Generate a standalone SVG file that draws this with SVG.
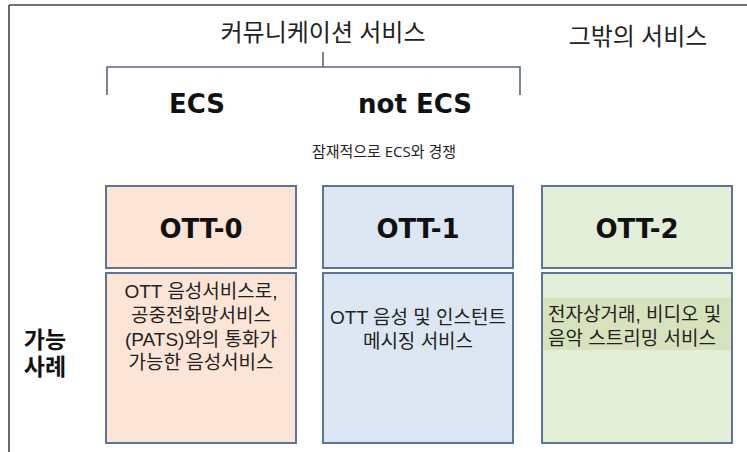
<svg xmlns="http://www.w3.org/2000/svg" width="747" height="452" viewBox="0 0 747 452">
<style>
text{font-family:"Open Sans","Noto Sans CJK KR",sans-serif;fill:#111;}
.hd{font-size:24px;text-anchor:middle;fill:#222;}
.big{font-family:"DejaVu Sans","Noto Sans CJK KR",sans-serif;font-size:26px;font-weight:bold;text-anchor:middle;}
.sub{font-size:15px;text-anchor:middle;fill:#222;}
.body{font-family:"Liberation Sans","Noto Sans CJK KR",sans-serif;font-size:19px;text-anchor:middle;fill:#222;}
.box{stroke:#5d7593;stroke-width:2;}
.c0{fill:#fce4d6;}
.c1{fill:#dde7f3;}
.c2{fill:#e4efda;}
.lbl{font-family:"Liberation Sans","Noto Sans CJK KR",sans-serif;font-size:23px;font-weight:bold;text-anchor:middle;}
.brk{fill:none;stroke:#5a6878;stroke-width:1.6;}
</style>
<rect x="0" y="0" width="747" height="452" fill="#ffffff"/>
<path d="M9,5 H747 M9,5 V452" fill="none" stroke="#444" stroke-width="1.6"/>
<g id="connectors">
<path class="brk" d="M107,95 V67 H520 V95 M323,52 V67"/>
</g>
<g id="header-comm"><text class="hd" x="323" y="41">커뮤니케이션 서비스</text></g>
<g id="header-other"><text class="hd" x="638" y="45">그밖의 서비스</text></g>
<g id="ecs"><text class="big" x="197" y="113">ECS</text></g>
<g id="not-ecs"><text class="big" x="415" y="113">not ECS</text><text class="sub" x="384" y="157">잠재적으로 ECS와 경쟁</text></g>
<g id="ott0">
<rect class="box c0" x="106" y="186" width="190" height="82"/>
<text class="big" x="201" y="238">OTT-0</text>
<rect class="box c0" x="106" y="273" width="190" height="170"/>
<text class="body"><tspan x="201" y="298">OTT 음성서비스로,</tspan><tspan x="201" y="322">공중전화망서비스</tspan><tspan x="201" y="345.5">(PATS)와의 통화가</tspan><tspan x="201" y="369">가능한 음성서비스</tspan></text>
</g>
<g id="ott1">
<rect class="box c1" x="323" y="186" width="190" height="82"/>
<text class="big" x="418" y="238">OTT-1</text>
<rect class="box c1" x="323" y="273" width="190" height="170"/>
<text class="body"><tspan x="418" y="324">OTT 음성 및 인스턴트</tspan><tspan x="418" y="348">메시징 서비스</tspan></text>
</g>
<g id="ott2">
<rect class="box c2" x="542" y="186" width="190" height="82"/>
<text class="big" x="637" y="238">OTT-2</text>
<rect class="box c2" x="542" y="273" width="190" height="170"/>
<rect x="543" y="298" width="188" height="52" fill="#d7e3bd"/>
<text class="body" style="text-anchor:start"><tspan x="548" y="321">전자상거래, 비디오 및</tspan><tspan x="548" y="345">음악 스트리밍 서비스</tspan></text>
</g>
<g id="cases"><text class="lbl"><tspan x="45" y="348">가능</tspan><tspan x="45" y="374.5">사례</tspan></text></g>
</svg>
